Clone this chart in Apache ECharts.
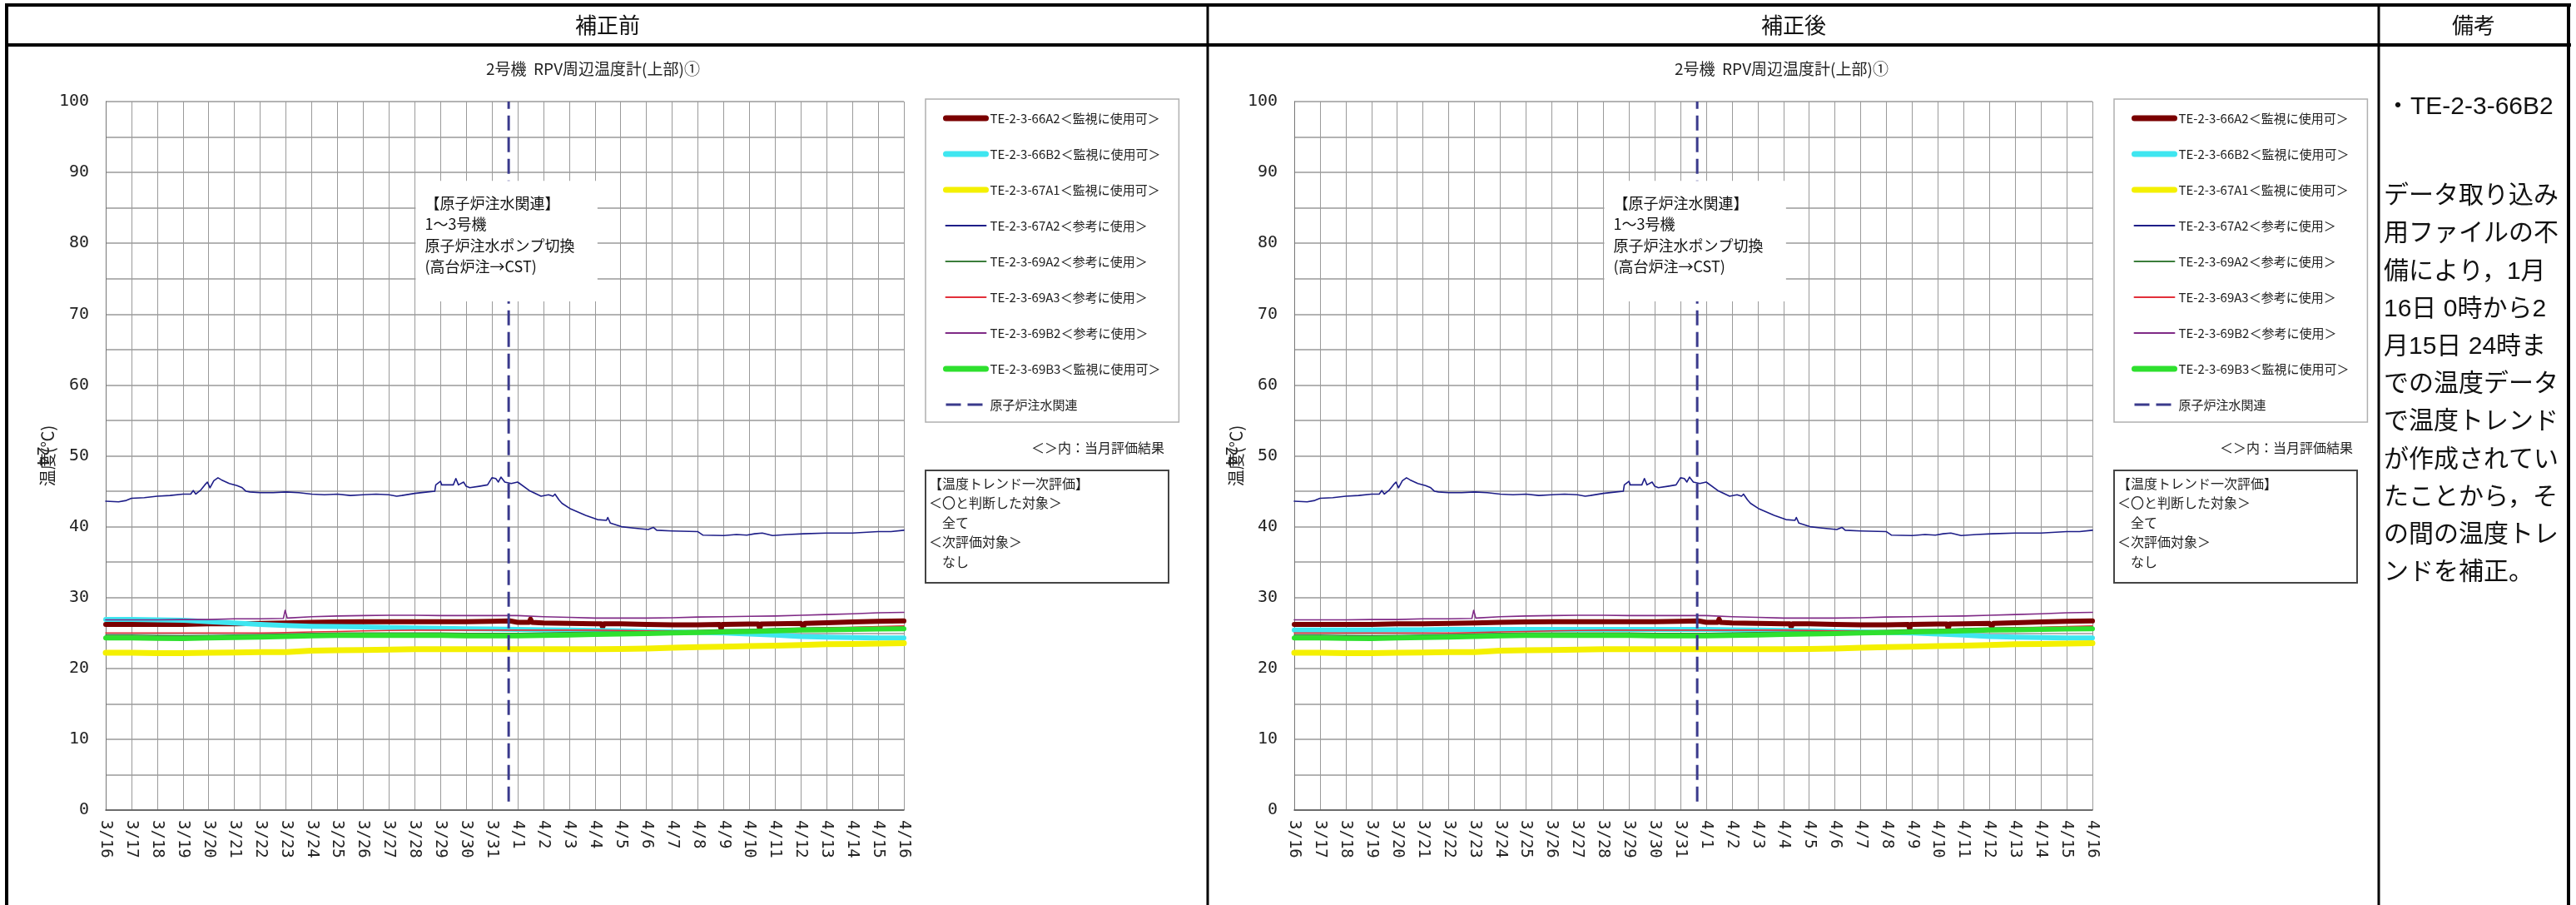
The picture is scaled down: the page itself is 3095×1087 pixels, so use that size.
<!DOCTYPE html>
<html><head><meta charset="utf-8">
<script src="https://cdn.jsdelivr.net/npm/echarts@6/dist/echarts.min.js"></script>
<style>html,body{margin:0;padding:0;background:#fff}#c{width:3095px;height:1087px}</style>
</head><body><div id="c"></div>
<script>
// ---------- data ----------
const tickLabels = ['3/16','3/17','3/18','3/19','3/20','3/21','3/22','3/23','3/24','3/25','3/26','3/27','3/28','3/29','3/30','3/31',
  '4/1','4/2','4/3','4/4','4/5','4/6','4/7','4/8','4/9','4/10','4/11','4/12','4/13','4/14','4/15','4/16'];
const days = [0,1,2,3,4,5,6,7,8,9,10,11,12,13,14,15,16,17,18,19,20,21,22,23,24,25,26,27,28,29,30,31];

const seriesNames = ['TE-2-3-66A2＜監視に使用可＞','TE-2-3-66B2＜監視に使用可＞','TE-2-3-67A1＜監視に使用可＞','TE-2-3-67A2＜参考に使用＞',
  'TE-2-3-69A2＜参考に使用＞','TE-2-3-69A3＜参考に使用＞','TE-2-3-69B2＜参考に使用＞','TE-2-3-69B3＜監視に使用可＞','原子炉注水関連'];

// TE-2-3-66A2 (dark red), with short dips/bumps
const t66A2 = [0,1,2,3,4,5,6,7,8,9,10,11,12,13,14,15,15.7,16,16.45,16.5,16.55,17,18,19,19.25,19.3,19.35,20,21,22,23,23.85,23.9,23.95,24,25,25.35,25.4,25.45,26,27,27.05,27.1,27.15,28,29,30,31];
const v66A2 = [26.2,26.2,26.2,26.2,26.3,26.3,26.35,26.4,26.5,26.55,26.6,26.6,26.6,26.6,26.6,26.65,26.7,26.5,26.5,26.95,26.5,26.4,26.35,26.3,26.3,25.8,26.3,26.3,26.2,26.15,26.15,26.2,25.6,26.2,26.2,26.25,26.25,25.6,26.25,26.3,26.35,26.35,25.9,26.35,26.45,26.55,26.65,26.7];
// TE-2-3-66B2 (cyan): before / after correction
const v66B2Before = [26.9,26.9,26.85,26.8,26.6,26.4,26.2,26.05,25.95,25.9,25.85,25.75,25.7,25.65,25.6,25.55,25.5,25.45,25.4,25.35,25.3,25.2,25.15,25.05,25.0,24.85,24.7,24.5,24.4,24.35,24.3,24.3];
const v66B2After  = [25.4,25.4,25.4,25.4,25.45,25.45,25.5,25.5,25.5,25.5,25.5,25.5,25.5,25.5,25.5,25.5,25.5,25.45,25.4,25.35,25.3,25.2,25.15,25.05,25.0,24.85,24.7,24.5,24.4,24.35,24.3,24.3];
// TE-2-3-67A1 (yellow)
const v67A1 = [22.2,22.2,22.15,22.15,22.2,22.25,22.3,22.3,22.5,22.55,22.6,22.65,22.7,22.7,22.7,22.7,22.7,22.7,22.7,22.7,22.75,22.8,22.9,23.0,23.05,23.15,23.2,23.3,23.4,23.45,23.5,23.55];
// TE-2-3-67A2 (navy)
const t67A2 = [0,0.5,0.8,1,1.5,2,2.5,3,3.3,3.4,3.5,3.7,3.85,3.95,4.05,4.2,4.36,4.5,4.8,5.1,5.3,5.35,5.45,5.6,6,6.5,7,7.5,8,8.5,9,9.5,10,10.5,11,11.3,11.5,12,12.5,12.78,12.82,13,13.05,13.5,13.6,13.7,13.9,14,14.14,14.5,14.83,15,15.15,15.25,15.35,15.5,15.75,16,16.45,16.91,17.2,17.37,17.45,17.6,17.72,18.06,18.64,19.1,19.45,19.5,19.6,20.03,20.5,21.07,21.27,21.4,22,23,23.2,24,24.5,24.9,25.2,25.5,25.9,26.5,27.1,28,29,30,30.5,31];
const v67A2 = [43.6,43.5,43.7,44.0,44.1,44.3,44.4,44.6,44.6,45.1,44.6,45.2,45.9,46.3,45.5,46.5,46.9,46.6,46.1,45.8,45.5,45.6,45.0,44.9,44.8,44.8,44.9,44.8,44.6,44.5,44.6,44.4,44.5,44.6,44.5,44.3,44.4,44.7,44.9,45.0,45.9,46.4,45.9,45.9,46.8,45.9,46.3,45.7,45.5,45.7,45.9,46.9,46.8,46.3,47.0,46.3,46.1,46.3,45.1,44.3,44.5,44.3,44.6,43.8,43.3,42.5,41.6,41.0,40.9,41.3,40.5,40.0,39.8,39.6,39.9,39.5,39.4,39.3,38.8,38.75,38.9,38.8,39.0,39.1,38.75,38.9,39.0,39.1,39.1,39.3,39.3,39.5];
// TE-2-3-69A2 (dark green)
const v69A2 = [24.7,24.7,24.65,24.6,24.65,24.7,24.75,24.85,24.95,25.0,25.0,25.0,25.0,25.0,24.95,24.95,24.95,25.0,25.05,25.1,25.15,25.2,25.3,25.35,25.45,25.5,25.6,25.7,25.75,25.8,25.85,25.9];
// TE-2-3-69A3 (red)
const v69A3 = [25.0,25.0,25.0,25.0,25.0,25.0,25.0,25.05,25.15,25.2,25.3,25.35,25.4,25.4,25.4,25.4,25.4,25.4,25.4,25.4,25.35,25.3,25.25,25.25,25.3,25.4,25.5,25.6,25.7,25.8,25.9,26.0];
// TE-2-3-69B2 (purple)
const t69B2 = [0,1,2,3,4,5,6,6.9,6.97,7.05,8,9,10,11,12,13,14,15,16,17,18,19,20,21,22,23,24,25,26,27,28,29,30,31];
const v69B2 = [26.85,26.85,26.85,26.9,26.9,27.0,27.0,27.05,28.2,27.1,27.3,27.4,27.45,27.5,27.5,27.45,27.45,27.45,27.45,27.3,27.2,27.1,27.1,27.1,27.15,27.25,27.3,27.35,27.4,27.5,27.6,27.7,27.85,27.9];
// TE-2-3-69B3 (green)
const v69B3 = [24.3,24.3,24.25,24.2,24.3,24.35,24.4,24.5,24.6,24.65,24.65,24.65,24.65,24.65,24.6,24.6,24.6,24.65,24.7,24.8,24.85,24.9,25.0,25.05,25.15,25.2,25.3,25.4,25.45,25.5,25.55,25.6];
// reactor water injection event (3/31 ~15:40)
const injectionDay = [15.65, 15.65];
const injectionRange = [1.2, 100];

const chartTitle = '2号機  RPV周辺温度計(上部)①';
const noteText = '【原子炉注水関連】\n1～3号機\n原子炉注水ポンプ切換\n(高台炉注→CST)';
const evalText = '【温度トレンド一次評価】\n＜〇と判断した対象＞\n　全て\n＜次評価対象＞\n　なし';
const headers = ['補正前','補正後','備考'];
const remarkHead = '・TE-2-3-66B2';
const remarkLines = ['データ取り込み','用ファイルの不','備により，1月','16日 0時から2','月15日 24時ま','での温度データ','で温度トレンド','が作成されてい','たことから，そ','の間の温度トレ','ンドを補正。'];

// ---------- build ----------
const pairs = (xs, ys) => xs.map((x, i) => [x, ys[i]]);
const colors = ['#7a0000','#3fe6f0','#f4f000','#1e1e88','#3b7d3b','#e2303a','#7f2a86','#2ee02e','#3a3a8c'];
const widths = [6,6,7,1.6,1.6,1.6,1.6,6,3];
const legendWidths = [7,7,7,2,2,2,2,7,3];
const CJK = '"Noto Sans CJK JP", sans-serif';
const NUM = '"DejaVu Sans Mono", monospace';
const OFF = 1428;
const GL = 127, GW = 959, LL = 1112, LW = 292;

function chartSeries(gi, cyan) {
  const dataSets = [pairs(t66A2, v66A2), pairs(days, cyan), pairs(days, v67A1), pairs(t67A2, v67A2),
    pairs(days, v69A2), pairs(days, v69A3), pairs(t69B2, v69B2), pairs(days, v69B3)];
  const out = dataSets.map((d, i) => ({
    name: seriesNames[i], type: 'line', xAxisIndex: gi, yAxisIndex: gi, data: d,
    symbol: 'none', smooth: false, silent: true, z: 2 + (i === 3 ? 1 : 0),
    lineStyle: { color: colors[i], width: widths[i], cap: 'round', join: 'round' }, itemStyle: { color: colors[i] }
  }));
  out.push({
    name: seriesNames[8], type: 'line', xAxisIndex: gi, yAxisIndex: gi,
    data: pairs(injectionDay, injectionRange), symbol: 'none', silent: true, z: 3,
    lineStyle: { color: colors[8], width: 3, type: [18, 8] }, itemStyle: { color: colors[8] },
    markArea: {
      silent: true, z: 20,
      itemStyle: { color: '#ffffff', borderWidth: 0 },
      label: { show: true, position: [11, 14], formatter: noteText, fontFamily: CJK, fontSize: 18, lineHeight: 25.5, color: '#111' },
      data: [[{ xAxis: 12.04, yAxis: 88.8 }, { xAxis: 19.1, yAxis: 71.8 }]]
    }
  });
  return out;
}

const gridDefs = [{ left: GL, top: 122, width: GW, height: 851 }, { left: GL + OFF, top: 122, width: GW, height: 851 }];

const xAxes = gridDefs.map((g, i) => ({
  type: 'value', gridIndex: i, min: 0, max: 31, interval: 1,
  axisLine: { show: true, lineStyle: { color: '#555', width: 1.5 } },
  axisTick: { show: false },
  splitLine: { show: true, lineStyle: { color: '#9a9a9a', width: 1 } },
  axisLabel: { rotate: -90, margin: 12, fontFamily: NUM, fontSize: 19, color: '#222',
    formatter: v => tickLabels[Math.round(v)] }
}));
const yAxes = gridDefs.map((g, i) => ({
  type: 'value', gridIndex: i, min: 0, max: 100, interval: 5,
  axisLine: { show: true, lineStyle: { color: '#777', width: 1 } },
  axisTick: { show: false },
  splitLine: { show: true, lineStyle: { color: '#9a9a9a', width: 1.5 } },
  axisLabel: { margin: 20, fontFamily: NUM, fontSize: 20, color: '#222', formatter: v => (v % 10 === 0 ? String(v) : '') },
  name: '温度(℃)', nameLocation: 'middle', nameGap: 40, nameRotate: 90,
  nameTextStyle: { fontFamily: CJK, fontSize: 20, color: '#222' }
}));

const legendData = seriesNames.map((n, i) => ({
  name: n, itemStyle: { opacity: 0 }, lineStyle: { width: legendWidths[i], cap: i === 8 ? 'butt' : 'round' }
}));
const legends = [0, 1].map(i => ({
  orient: 'vertical', left: LL + i * OFF, top: 119, data: legendData,
  itemWidth: 48, itemHeight: 14, itemGap: 27,
  padding: [15, 22, 13, 21], borderColor: '#b0b0b0', borderWidth: 1.5,
  textStyle: { fontFamily: CJK, fontSize: 15, color: '#222', lineHeight: 16 },
  selectedMode: false
}));

const titles = [0, 1].map(i => ({
  text: chartTitle, left: 579 + i * OFF, top: 68,
  textStyle: { fontFamily: CJK, fontSize: 19, fontWeight: 'normal', color: '#222' }
}));

// graphic: table frame, headers, remark text, side notes
const g = [];
const line = (x1, y1, x2, y2, w) => g.push({ type: 'line', shape: { x1, y1, x2, y2 }, style: { stroke: '#000', lineWidth: w }, silent: true, z: 50 });
line(6, 6, 3089, 6, 4); line(6, 54, 3089, 54, 4);
line(8, 4, 8, 1087, 4); line(3086, 4, 3086, 1087, 4);
line(1451, 6, 1451, 1087, 3); line(2858, 6, 2858, 1087, 3);
const hx = [730, 2155, 2972];
headers.forEach((h, i) => g.push({ type: 'text', x: hx[i], y: 30, silent: true, z: 50,
  style: { text: h, fontFamily: CJK, fontSize: 26, fill: '#111', textAlign: 'center', textVerticalAlign: 'middle' } }));
g.push({ type: 'text', x: 2866, y: 129, silent: true, z: 50,
  style: { text: remarkHead, fontFamily: '"Liberation Sans", ' + CJK, fontSize: 30, fill: '#111', textAlign: 'left', textVerticalAlign: 'middle' } });
remarkLines.forEach((t, i) => g.push({ type: 'text', x: 2864, y: 236 + i * 45.2, silent: true, z: 50,
  style: { text: t, fontFamily: '"Liberation Sans", ' + CJK, fontSize: 30, fill: '#111', textAlign: 'left', textVerticalAlign: 'middle' } }));
[0, 1].forEach(i => {
  const o = i * OFF;
  g.push({ type: 'text', x: 50 + o, y: 548, rotation: -Math.PI / 2, silent: true,
    style: { text: '24', fontFamily: NUM, fontSize: 20, fill: '#222', textAlign: 'center', textVerticalAlign: 'middle' } });
  g.push({ type: 'text', x: LL + LW - 5 + o, y: 538, silent: true,
    style: { text: '＜＞内：当月評価結果', fontFamily: CJK, fontSize: 16, fill: '#222', textAlign: 'right', textVerticalAlign: 'middle' } });
  g.push({ type: 'rect', shape: { x: LL + o, y: 565, width: LW, height: 135 }, silent: true,
    style: { fill: '#fff', stroke: '#444', lineWidth: 2 } });
  g.push({ type: 'text', x: LL + 4 + o, y: 569, silent: true,
    style: { text: evalText, fontFamily: CJK, fontSize: 16, lineHeight: 23.5, fill: '#222', textAlign: 'left', textVerticalAlign: 'top' } });
});

const option = {
  animation: false,
  backgroundColor: '#ffffff',
  title: titles,
  legend: legends,
  grid: gridDefs,
  xAxis: xAxes,
  yAxis: yAxes,
  series: chartSeries(0, v66B2Before).concat(chartSeries(1, v66B2After)),
  graphic: g
};
const chart = echarts.init(document.getElementById('c'), null, { renderer: 'canvas' });
chart.setOption(option);
</script></body></html>
